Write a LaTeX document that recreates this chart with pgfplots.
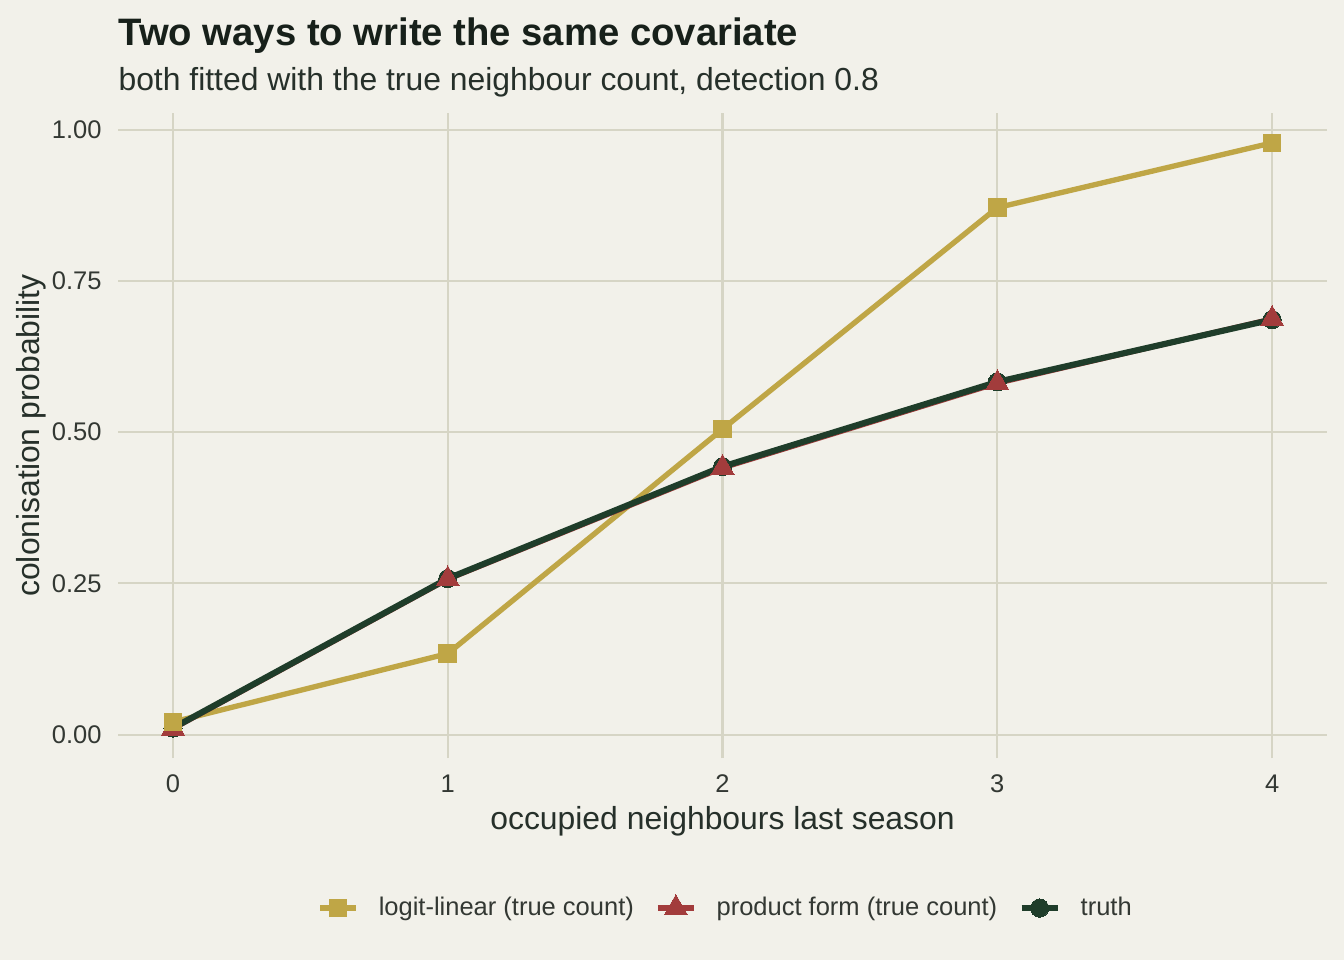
\documentclass[border=0pt]{standalone}
\usepackage{fontspec}
\setmainfont{Liberation Sans}
\usepackage{pgfplots}
\pgfplotsset{compat=1.18}

\definecolor{bgcol}{HTML}{F2F1EA}
\definecolor{gridcol}{HTML}{D6D5C5}
\definecolor{gold}{HTML}{BFA646}
\definecolor{brick}{HTML}{A23C3C}
\definecolor{pine}{HTML}{1F3D2A}
\definecolor{titlecol}{HTML}{17201A}
\definecolor{labelcol}{HTML}{26302A}
\definecolor{tickcol}{HTML}{333833}

\begin{document}
\begin{tikzpicture}
  \fill[bgcol, use as bounding box] (0,0) rectangle (504bp,360bp);

  \node[anchor=base west, inner sep=0, text=titlecol,
        font=\fontsize{14.4}{17}\selectfont\bfseries] at (44.25bp,343.1bp)
        {Two ways to write the same covariate};
  \node[anchor=base west, inner sep=0, text=labelcol,
        font=\fontsize{12}{14}\selectfont] at (44.25bp,326bp)
        {both fitted with the true neighbour count, detection 0.8};

  \begin{axis}[
      at={(44.25bp,75.75bp)}, anchor=south west,
      scale only axis,
      width=453.4bp, height=241.9bp,
      xmin=-0.2, xmax=4.2,
      ymin=-0.0385, ymax=1.0275,
      xtick={0,1,2,3,4},
      xticklabels={0,1,2,3,4},
      ytick={0,0.25,0.5,0.75,1},
      yticklabels={0.00,0.25,0.50,0.75,1.00},
      axis line style={draw=none},
      major tick length=0pt,
      grid=major,
      major grid style={gridcol, line width=0.8bp},
      ticklabel style={font=\fontsize{9.6}{11}\selectfont, text=tickcol, inner sep=0pt},
      xticklabel style={anchor=north, yshift=-6bp},
      yticklabel style={anchor=east, xshift=-6bp},
      xlabel={occupied neighbours last season},
      ylabel={colonisation probability},
      label style={font=\fontsize{12}{14}\selectfont, text=labelcol, inner sep=0pt},
      xlabel style={at={(axis description cs:0.5,0)}, anchor=north, yshift=-18bp},
      ylabel style={at={(axis description cs:0,0.5)}, anchor=center, yshift=32.6bp},
      legend columns=3,
      legend cell align=left,
      legend style={at={(axis description cs:0.5017,-0.231)}, anchor=center,
        draw=none, fill=none, inner sep=0pt,
        font=\fontsize{9.6}{11}\selectfont, text=tickcol,
        nodes={inner sep=0pt},
        /tikz/every odd column/.append style={column sep=7.5bp},
        /tikz/every even column/.append style={column sep=8bp}},
      legend image code/.code={
        \draw[mark repeat=2, mark phase=2, #1]
          plot coordinates {(0bp,0bp) (6.75bp,0bp) (13.5bp,0bp)};},
    ]

    % lines first
    \addplot[gold, line width=2bp, forget plot] coordinates {
      (0,0.021) (1,0.134) (2,0.505) (3,0.871) (4,0.978)};
    \addplot[brick, line width=2bp, forget plot] coordinates {
      (0,0.010) (1,0.257) (2,0.441) (3,0.581) (4,0.687)};
    \addplot[pine, line width=2.3bp, forget plot] coordinates {
      (0,0.011) (1,0.258) (2,0.443) (3,0.583) (4,0.686)};

    % then the points
    \addplot[only marks, mark=*, mark size=3.4bp,
      mark options={fill=pine, draw=pine, line width=0pt}, forget plot] coordinates {
      (0,0.011) (1,0.258) (2,0.443) (3,0.583) (4,0.686)};
    \addplot[only marks, mark=triangle*, mark size=5bp,
      mark options={fill=brick, draw=brick, line width=0pt}, forget plot] coordinates {
      (0,0.010) (1,0.257) (2,0.441) (3,0.581) (4,0.687)};
    \addplot[only marks, mark=square*, mark size=3.3bp,
      mark options={fill=gold, draw=gold, line width=0pt}, forget plot] coordinates {
      (0,0.021) (1,0.134) (2,0.505) (3,0.871) (4,0.978)};

    \addlegendimage{gold, line width=2bp, mark=square*, mark size=3.3bp,
      mark options={fill=gold, line width=0pt}}
    \addlegendentry{logit-linear (true count)}
    \addlegendimage{brick, line width=2bp, mark=triangle*, mark size=5bp,
      mark options={fill=brick, line width=0pt}}
    \addlegendentry{product form (true count)}
    \addlegendimage{pine, line width=2.3bp, mark=*, mark size=3.4bp,
      mark options={fill=pine, line width=0pt}}
    \addlegendentry{truth}
  \end{axis}
\end{tikzpicture}
\end{document}
